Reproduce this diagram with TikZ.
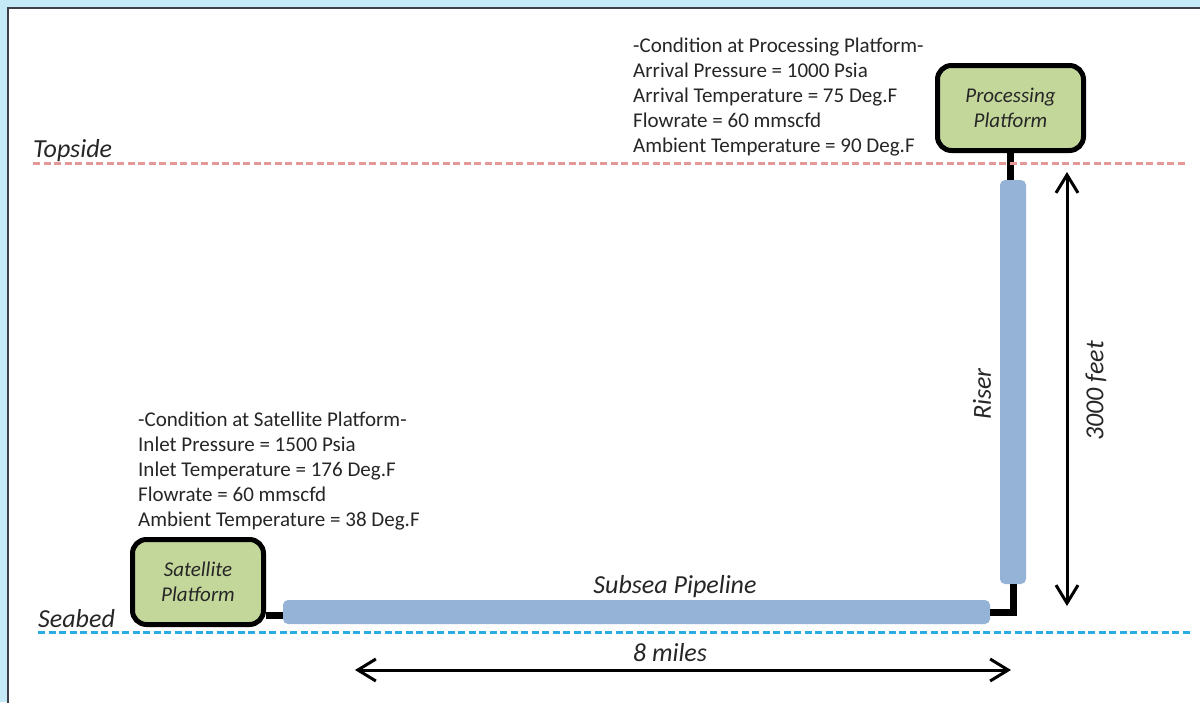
\documentclass[tikz,border=0pt]{standalone}
\usepackage{fontspec}
\setmainfont{Carlito}
\usetikzlibrary{arrows.meta,calc}
\definecolor{bgblue}{RGB}{198,233,248}
\definecolor{framec}{RGB}{60,64,70}
\definecolor{boxgreen}{RGB}{196,215,155}
\definecolor{pipeblue}{RGB}{149,179,215}
\definecolor{topred}{RGB}{228,152,152}
\definecolor{seablue}{RGB}{41,172,226}
\definecolor{txt}{RGB}{38,38,38}
\begin{document}
\begin{tikzpicture}[x=1pt,y=-1pt,
  platform/.style={draw=black, line width=5pt, fill=boxgreen, rounded corners=14pt, align=center,
    font=\fontsize{21}{25}\selectfont\itshape, text=txt, inner sep=0pt},
  pipe/.style={fill=pipeblue, draw=none, rounded corners=5pt, inner sep=0pt},
  link/.style={line width=7pt, draw=black},
  dim/.style={line width=3pt, draw=black, {Straight Barb[length=18pt,width=22pt]}-{Straight Barb[length=18pt,width=22pt]}},
  cond/.style={anchor=base west, inner sep=0pt, font=\fontsize{21}{25}\selectfont, text=txt},
  lbl/.style={inner sep=0pt, font=\fontsize{26}{30}\selectfont\itshape, text=txt},
  level/.style={line width=3pt, dash pattern=on 7pt off 3.5pt}]
\useasboundingbox (0,0) rectangle (1200,702);
% background frame
\fill[bgblue] (0,0) rectangle (1200,702);
\draw[framec, line width=2pt, fill=white] (8,7.5) rectangle (1212,714);

% platforms and pipes
\node[platform, minimum width=146pt, minimum height=85pt] (proc) at (1010.5,108) {Processing\\Platform};
\node[platform, minimum width=131pt, minimum height=85pt] (sat) at (198,582) {Satellite\\Platform};
\node[pipe, minimum width=26pt, minimum height=404pt] (riser) at (1013,382) {};
\node[pipe, minimum width=707pt, minimum height=24pt] (pipeline) at (636.5,612) {};

% connectors
\draw[link] (proc.south) -- (proc.south |- riser.north);
\draw[link] (riser.south) |- (pipeline.east);
\draw[link] ($(sat.east |- pipeline.west)+(0,3.5)$) -- ($(pipeline.west)+(0,3.5)$);

% level lines
\coordinate (tsl) at (33,163); \coordinate (tsr) at (1185,163);
\coordinate (sbl) at (38,632); \coordinate (sbr) at (1190,632);
\draw[level, topred] (tsl) -- (tsr);
\draw[level, seablue] (sbl) -- (sbr);

% dimension arrows
\coordinate (vtop) at (1067,172); \coordinate (vbot) at (1067,606);
\coordinate (hl) at (355,670); \coordinate (hr) at (1011,670);
\draw[dim] (vtop) -- (vbot);
\draw[dim] (hl) -- (hr);

% labels
\node[lbl, anchor=base west] (topside) at (33,157) {Topside};
\node[lbl, anchor=base west] (seabed) at (38,627) {Seabed};
\node[lbl, anchor=base] (subsea) at (675,593) {Subsea Pipeline};
\node[lbl, anchor=base] (miles) at (670,661.5) {8 miles};
\node[lbl, rotate=90] (riserlbl) at (982,394) {Riser};
\node[lbl, rotate=90] (feet) at (1096,391) {3000 feet};

% conditions
\foreach \txtline [count=\i] in {-Condition at Processing Platform-, Arrival Pressure = 1000 Psia, Arrival Temperature = 75 Deg.F, Flowrate = 60 mmscfd, Ambient Temperature = 90 Deg.F}
  \node[cond] (pc\i) at (633,27+25*\i) {\txtline};
\foreach \txtline [count=\i] in {-Condition at Satellite Platform-, Inlet Pressure = 1500 Psia, Inlet Temperature = 176 Deg.F, Flowrate = 60 mmscfd, Ambient Temperature = 38 Deg.F}
  \node[cond] (sc\i) at (138,401+25*\i) {\txtline};
\end{tikzpicture}
\end{document}
